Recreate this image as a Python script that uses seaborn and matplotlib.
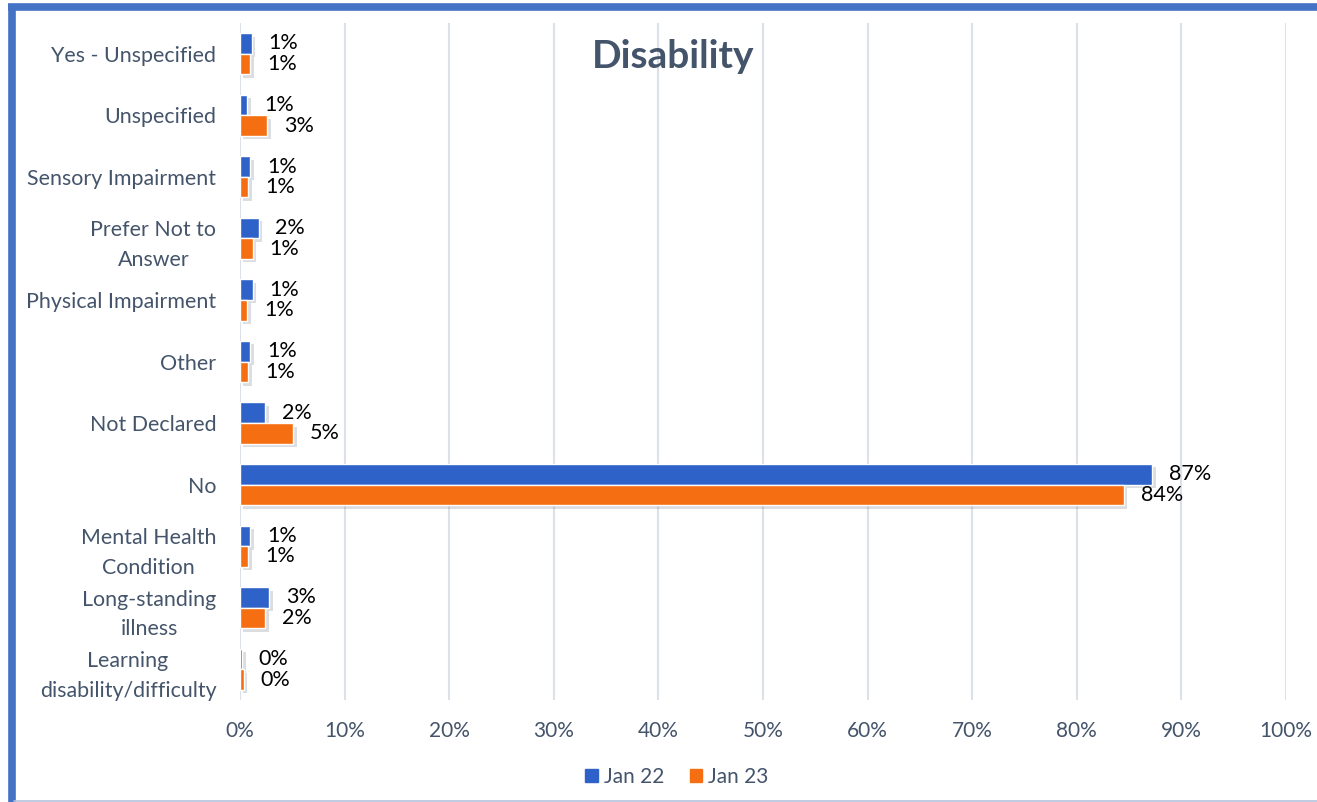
import matplotlib
matplotlib.use("Agg")
import matplotlib.pyplot as plt
import matplotlib.patheffects as pe
from matplotlib.lines import Line2D
import seaborn as sns
import pandas as pd

categories = [
    "Yes - Unspecified",
    "Unspecified",
    "Sensory Impairment",
    "Prefer Not to\nAnswer",
    "Physical Impairment",
    "Other",
    "Not Declared",
    "No",
    "Mental Health\nCondition",
    "Long-standing\nillness",
    "Learning\ndisability/difficulty",
]
jan22 = [1.1, 0.7, 1.0, 1.8, 1.2, 1.0, 2.4, 87.2, 1.0, 2.8, 0.2]
jan23 = [1.0, 2.6, 0.8, 1.2, 0.7, 0.8, 5.1, 84.5, 0.8, 2.4, 0.35]
series = ["Jan 22", "Jan 23"]
colors = {"Jan 22": "#2E62C8", "Jan 23": "#F56F12"}
xticks = list(range(0, 101, 10))
title = "Disability"

df = pd.DataFrame({
    "Category": categories * 2,
    "Value": jan22 + jan23,
    "Year": [series[0]] * len(categories) + [series[1]] * len(categories),
})

sns.set_style("white")
plt.rcParams["font.family"] = ["Lato", "DejaVu Sans"]

W, H = 1317, 802
fig = plt.figure(figsize=(W / 100, H / 100), dpi=100)
ax = fig.add_axes([240 / W, 1 - 700 / H, (1286 - 240) / W, (700 - 23) / H])

sns.barplot(data=df, y="Category", x="Value", hue="Year", orient="h",
            order=categories, hue_order=series, palette=colors, saturation=1,
            width=0.67, errorbar=None, ax=ax, legend=False, zorder=3)

shadow = [pe.SimplePatchShadow(offset=(2.5, -2.5), shadow_rgbFace="#9AA0A8", alpha=0.35),
          pe.Normal()]
for cont in ax.containers:
    for b in cont:
        b.set_path_effects(shadow)
    ax.bar_label(cont, labels=[f"{b.get_width():.0f}%" for b in cont],
                 padding=12, fontsize=15.5, color="black")

slate = "#44546A"
ax.set_xlim(0, 100)
ax.set_xticks(xticks)
ax.set_xticklabels([f"{v}%" for v in xticks], fontsize=15, color=slate)
ax.tick_params(axis="x", length=0, pad=15)
ax.tick_params(axis="y", length=0, pad=17, labelsize=15.4, labelcolor=slate)
for lab in ax.get_yticklabels():
    lab.set_multialignment("center")
    lab.set_linespacing(1.6)
ax.set_xlabel("")
ax.set_ylabel("")
ax.grid(axis="x", color="#DCE0E8", lw=1.5, zorder=0)
ax.set_axisbelow(True)
for s in ax.spines.values():
    s.set_visible(False)

ax.text(0.414, 0.95, title, transform=ax.transAxes, ha="center", va="center",
        fontsize=28, fontweight="bold", color=slate)

handles = [plt.Rectangle((0, 0), 1, 1, color=colors[s]) for s in series]
fig.legend(handles, series, loc="center", bbox_to_anchor=(677 / W, 1 - 777 / H),
           ncol=2, frameon=False, fontsize=15, handlelength=0.6, handleheight=0.6,
           handletextpad=0.3, columnspacing=1.2, labelcolor=slate)

# chart frame
fig.add_artist(Line2D([11.5 / W, 11.5 / W], [0, 1 - 4 / H], color="#4472C4", lw=5.5,
                      transform=fig.transFigure, solid_capstyle="butt"))
fig.add_artist(Line2D([8 / W, 1], [1 - 7 / H, 1 - 7 / H], color="#4472C4", lw=5.5,
                      transform=fig.transFigure, solid_capstyle="butt"))
fig.add_artist(Line2D([14 / W, 1], [0.6 / H, 0.6 / H], color="#B4C2DC", lw=1.2,
                      transform=fig.transFigure))

fig.savefig("out.png", dpi=100)
